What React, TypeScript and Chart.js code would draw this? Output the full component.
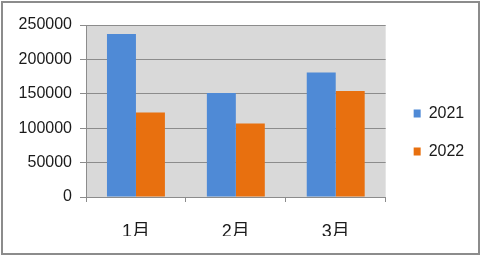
import React, { useEffect, useRef } from "react";
import { Chart, registerables } from "chart.js";

Chart.register(...registerables);

const categories = ["1月", "2月", "3月"];
const seriesNames = ["2021", "2022"];
const values2021 = [237000, 151000, 181000];
const values2022 = [123000, 107000, 154000];
const yTicks = [0, 50000, 100000, 150000, 200000, 250000];

const FONT = '"Liberation Sans", "Noto Sans CJK SC", sans-serif';
const GRID = "#8c8c8c";

const backgroundPlugin = {
  id: "bgPlugin",
  beforeDraw(chart: any) {
    const { ctx, chartArea, width, height } = chart;
    ctx.save();
    ctx.fillStyle = "#ffffff";
    ctx.fillRect(0, 0, width, height);
    ctx.fillStyle = "#d9d9d9";
    ctx.fillRect(chartArea.left, chartArea.top, chartArea.right - chartArea.left, chartArea.bottom - chartArea.top);
    ctx.strokeStyle = "#8c8c8c";
    ctx.lineWidth = 2;
    ctx.strokeRect(2, 2, width - 5, height - 5);
    ctx.restore();
  },
};

export default function App() {
  const ref = useRef<HTMLCanvasElement>(null);
  useEffect(() => {
    if (!ref.current) return;
    const chart = new Chart(ref.current, {
      type: "bar",
      data: {
        labels: categories,
        datasets: [
          { label: seriesNames[0], data: values2021, backgroundColor: "#4f8ad6", borderWidth: 0 },
          { label: seriesNames[1], data: values2022, backgroundColor: "#e8700f", borderWidth: 0 },
        ],
      },
      options: {
        responsive: false,
        animation: false,
        devicePixelRatio: 1,
        layout: { padding: { left: 0, top: 25, right: 12, bottom: 21 } },
        datasets: { bar: { categoryPercentage: 0.58, barPercentage: 1 } },
        plugins: {
          legend: {
            position: "right",
            align: "center",
            title: { display: true, text: "", padding: { top: 3, bottom: 0 }, font: { size: 1 } },
            labels: {
              boxWidth: 7,
              boxHeight: 8,
              padding: 22,
              color: "#1a1a1a",
              font: { family: FONT, size: 16 },
            },
          },
          tooltip: { enabled: false },
        },
        scales: {
          x: {
            offset: true,
            afterFit: (s: any) => { s.height = 39; },
            grid: { drawOnChartArea: false, drawTicks: true, tickLength: 5, color: GRID, offset: true },
            border: { display: true, color: GRID },
            ticks: { color: "#1a1a1a", padding: 19, font: { family: FONT, size: 18 } },
          },
          y: {
            min: 0,
            max: 250000,
            afterFit: (s: any) => { s.width = 86; },
            afterBuildTicks: (s: any) => { s.ticks = yTicks.map((v) => ({ value: v })); },
            grid: { color: GRID, tickLength: 6, drawTicks: true },
            border: { display: true, color: GRID },
            ticks: {
              color: "#1a1a1a",
              padding: 8,
              font: { family: FONT, size: 16 },
              callback: (v: any) => String(v),
            },
          },
          y2: {
            type: "linear",
            position: "right",
            display: true,
            grid: { display: false },
            border: { display: false },
            ticks: { display: false },
            afterFit: (s: any) => { s.width = 6; },
          },
        },
      },
      plugins: [backgroundPlugin],
    } as any);
    return () => chart.destroy();
  }, []);
  return (
    <div style={{ position: "fixed", left: 0, top: 0, width: 482, height: 257, background: "#fff" }}>
      <canvas ref={ref} width={482} height={257} style={{ display: "block" }} />
    </div>
  );
}
